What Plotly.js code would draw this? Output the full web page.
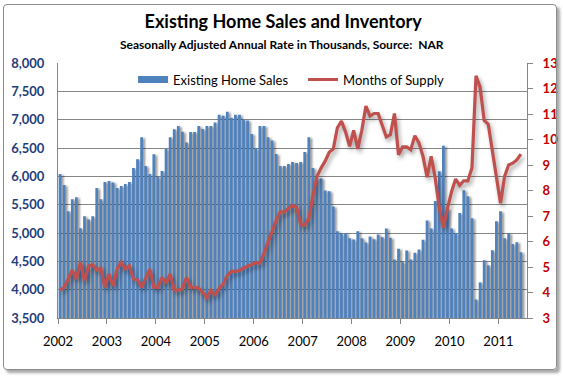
<!DOCTYPE html>
<html>
<head>
<meta charset="utf-8">
<script src="https://cdn.plot.ly/plotly-3.0.1.min.js"></script>
<style>
  html, body { margin: 0; padding: 0; background: #ffffff; }
  #wrap { position: relative; width: 563px; height: 378px; overflow: hidden; }
  #chart { position: absolute; left: 0; top: 0; width: 563px; height: 378px; }
  #frame { position: absolute; left: 3px; top: 4px; width: 552px; height: 364px;
           border: 1px solid #8c8c8c; border-radius: 4px;
           box-shadow: 3px 3px 3px rgba(0,0,0,0.35); pointer-events: none; }
  .barlayer .points { filter: drop-shadow(2px 1px 1.2px rgba(0,0,0,0.45)); }
  .scatterlayer .js-line { filter: drop-shadow(2px 3px 2px rgba(0,0,0,0.35)); }
</style>
</head>
<body>
<div id="wrap">
  <div id="chart"></div>
  <div id="frame"></div>
</div>
<script>
// Year tick labels
const years = ['2002','2003','2004','2005','2006','2007','2008','2009','2010','2011'];

// Existing home sales, SAAR thousands, monthly Jan 2002 - Jun 2011
const sales2002 = [6040, 5845, 5385, 5597, 5633, 5084, 5296, 5237, 5296, 5792, 5597, 5899];
const sales2003 = [5916, 5893, 5792, 5828, 5863, 5899, 6146, 6300, 6690, 6182, 6040, 6388];
const sales2004 = [5993, 6093, 6483, 6690, 6831, 6890, 6787, 6595, 6784, 6784, 6890, 6837];
const sales2005 = [6890, 6890, 6949, 7085, 7067, 7138, 7032, 7085, 7085, 6997, 6985, 6749];
const sales2006 = [6495, 6890, 6890, 6690, 6631, 6394, 6182, 6182, 6217, 6253, 6236, 6253];
const sales2007 = [6430, 6690, 6146, 5965, 5960, 5752, 5735, 5469, 5033, 4986, 4998, 4909];
const sales2008 = [4886, 5033, 4909, 4832, 4939, 4891, 4974, 4927, 5078, 4915, 4533, 4722];
const sales2009 = [4486, 4692, 4533, 4651, 4710, 4881, 5222, 5080, 5564, 6088, 6540, 5428];
const sales2010 = [5080, 4998, 5351, 5755, 5648, 5259, 3826, 4128, 4517, 4429, 4694, 5208];
const sales2011 = [5385, 4907, 4995, 4807, 4836, 4659];

// Months of supply
const supply2002 = [4.09, 4.20, 4.53, 4.88, 4.53, 5.19, 4.46, 5.05, 5.09, 4.88, 4.96, 4.20];
const supply2003 = [4.73, 4.26, 4.92, 5.19, 4.92, 5.05, 4.53, 4.49, 4.20, 4.59, 4.92, 4.20];
const supply2004 = [4.20, 4.59, 4.36, 4.73, 4.09, 4.09, 4.15, 4.59, 4.20, 4.20, 4.17, 4.00];
const supply2005 = [3.80, 4.07, 3.91, 4.16, 4.33, 4.66, 4.83, 4.83, 4.86, 4.96, 5.02, 5.10];
const supply2006 = [5.17, 5.15, 5.52, 5.98, 6.41, 6.83, 7.16, 7.16, 7.30, 7.40, 7.35, 6.66];
const supply2007 = [6.64, 6.90, 7.80, 8.55, 8.88, 9.15, 9.50, 9.63, 10.46, 10.72, 10.30, 9.73];
const supply2008 = [10.36, 9.63, 10.36, 11.31, 10.92, 11.02, 11.02, 10.59, 10.10, 10.19, 11.02, 9.40];
const supply2009 = [9.71, 9.71, 9.60, 10.15, 9.87, 9.34, 8.52, 9.34, 8.48, 7.30, 6.54, 7.30];
const supply2010 = [7.95, 8.45, 8.20, 8.38, 8.38, 8.88, 12.50, 12.05, 10.75, 10.60, 9.55, 8.40];
const supply2011 = [7.50, 8.55, 9.00, 9.07, 9.20, 9.43];

const sales = [].concat(sales2002, sales2003, sales2004, sales2005, sales2006,
                        sales2007, sales2008, sales2009, sales2010, sales2011);
const supply = [].concat(supply2002, supply2003, supply2004, supply2005, supply2006,
                         supply2007, supply2008, supply2009, supply2010, supply2011);
const monthIdx = sales.map((_, i) => i);
const nSlots = 115; // one empty slot at the end of the category axis

const FONT = 'Lato, "Open Sans", sans-serif';
const BLUE = '#4F81BD';
const RED = '#C0504D';

const traces = [
  {
    type: 'bar', name: 'Existing Home Sales',
    x: monthIdx, y: sales,
    marker: { color: BLUE, line: { width: 0 } },
    yaxis: 'y', hoverinfo: 'skip', showlegend: false
  },
  {
    // legend entry only: wide rectangle swatch like the original
    type: 'scatter', mode: 'lines', name: 'Existing Home Sales',
    x: [null], y: [null],
    line: { color: BLUE, width: 7 },
    yaxis: 'y', hoverinfo: 'skip', showlegend: true
  },
  {
    type: 'scatter', mode: 'lines', name: 'Months of Supply',
    x: monthIdx, y: supply,
    line: { color: RED, width: 3.2 },
    yaxis: 'y2', hoverinfo: 'skip'
  }
];

const layout = {
  width: 563, height: 378,
  margin: { l: 58, r: 36, t: 63, b: 60, pad: 0 },
  paper_bgcolor: '#ffffff', plot_bgcolor: '#ffffff',
  bargap: 0.32,
  showlegend: true,
  title: {
    text: '<b>Existing Home Sales and Inventory</b>',
    font: { family: FONT, size: 18, color: '#000000' },
    xref: 'container', x: 0.503, xanchor: 'center',
    yref: 'container', y: 0.942, yanchor: 'middle'
  },
  annotations: [{
    text: '<b>Seasonally Adjusted Annual Rate in Thousands, Source:  NAR</b>',
    xref: 'paper', yref: 'paper', x: 0.4776, y: 1.0745,
    xanchor: 'center', yanchor: 'middle', showarrow: false,
    font: { family: FONT, size: 12, color: '#000000' }
  }],
  legend: {
    orientation: 'h', x: 0.16, y: 0.935, xanchor: 'left', yanchor: 'middle',
    bgcolor: 'rgba(0,0,0,0)', borderwidth: 0,
    font: { family: FONT, size: 13, color: '#000000' },
    itemwidth: 30, entrywidth: 125, entrywidthmode: 'pixels'
  },
  xaxis: {
    range: [-0.5, nSlots - 0.5],
    tickmode: 'array',
    tickvals: years.map((_, k) => k * 12 - 0.5),
    ticktext: years,
    ticks: 'outside', ticklen: 5, tickcolor: '#868686', tickwidth: 1,
    ticklabelstandoff: 6,
    showline: true, linecolor: '#868686', linewidth: 1,
    showgrid: false, zeroline: false,
    tickfont: { family: FONT, size: 13, color: '#000000' },
    fixedrange: true
  },
  yaxis: {
    range: [3500, 8000], dtick: 500, tick0: 3500,
    tickformat: ',d',
    showgrid: true, gridcolor: '#868686', gridwidth: 1,
    showline: true, linecolor: '#868686', linewidth: 1,
    zeroline: false, ticks: '',
    ticklabelstandoff: 10,
    tickfont: { family: FONT, size: 13, color: '#1F3D7A', weight: 'bold' },
    fixedrange: true
  },
  yaxis2: {
    range: [3, 13], dtick: 1, tick0: 3,
    overlaying: 'y', side: 'right',
    showgrid: false, zeroline: false,
    showline: true, linecolor: '#868686', linewidth: 1,
    ticks: 'outside', ticklen: 5, tickcolor: '#868686',
    ticklabelstandoff: 7,
    tickfont: { family: FONT, size: 13, color: '#C00000', weight: 'bold' },
    fixedrange: true
  }
};

Plotly.newPlot('chart', traces, layout, { staticPlot: true, displayModeBar: false });
</script>
</body>
</html>
